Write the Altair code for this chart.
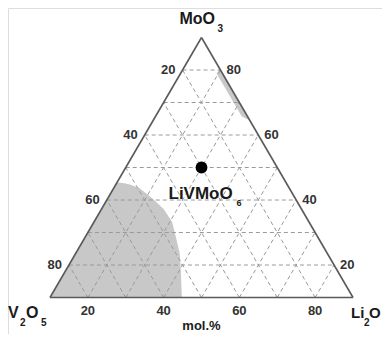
import altair as alt
import pandas as pd

# ---------------- data (mole fractions) ----------------
grid_steps = [1/8, 2/8, 3/8, 4/8, 5/8, 6/8, 7/8]

bottom_labels = ["20", "40", "60", "80"]          # Li2O axis (base)
bottom_pos = [0.125, 0.375, 0.625, 0.875]
left_labels = ["80", "60", "40", "20"]            # V2O5 axis (left edge)
left_pos = [0.125, 0.375, 0.625, 0.875]
right_labels = ["20", "40", "60", "80"]           # MoO3 axis (right edge)
right_pos = [0.125, 0.375, 0.625, 0.875]

compound_name = "LiVMoO"
compound_li = [0.25]
compound_mo = [0.50]

# glass-forming region near V2O5 corner: boundary Li2O for given MoO3
region_mo = [0.0, 0.10, 0.17, 0.23, 0.29, 0.34, 0.38, 0.42, 0.435, 0.44, 0.442]
region_li = [0.435, 0.382, 0.343, 0.301, 0.258, 0.205, 0.149, 0.086, 0.046, 0.021, 0.0]

# narrow region along the MoO3-Li2O side: V2O5 width for given MoO3
strip_mo = [0.686, 0.697, 0.862, 0.875]
strip_v = [0.006, 0.019, 0.019, 0.005]

# ---------------- helpers ----------------
W, H = 374, 326
XS = alt.Scale(domain=[-0.1386, 1.0957], nice=False, zero=False)
YS = alt.Scale(domain=[-0.1403, 1.1135], nice=False, zero=False)
FONT = "Liberation Sans"


def px(li, mo):
    return li + mo / 2.0


def enc_xy(xf="x", yf="y"):
    return dict(x=alt.X(f"{xf}:Q", scale=XS, axis=None),
                y=alt.Y(f"{yf}:Q", scale=YS, axis=None))


# grid segments
seg = []
for f in grid_steps:
    seg.append(dict(x=px(0, f), y=f, x2=px(1 - f, f), y2=f))          # MoO3 const
    seg.append(dict(x=px(f, 0), y=0, x2=px(f, 1 - f), y2=1 - f))      # Li2O const
    seg.append(dict(x=px(1 - f, 0), y=0, x2=px(0, 1 - f), y2=1 - f))  # V2O5 const
grid_df = pd.DataFrame(seg)

edges_df = pd.DataFrame([
    dict(x=px(0, 0), y=0, x2=px(1, 0), y2=0),
    dict(x=px(0, 0), y=0, x2=px(0, 1), y2=1),
    dict(x=px(1, 0), y=0, x2=px(0, 1), y2=1),
])

region_df = pd.DataFrame({
    "y": region_mo,
    "x": [px(0, m) for m in region_mo],
    "x2": [px(l, m) for l, m in zip(region_li, region_mo)],
})
strip_df = pd.DataFrame({
    "y": strip_mo,
    "x": [px(1 - v - m, m) for v, m in zip(strip_v, strip_mo)],
    "x2": [px(1 - m, m) for m in strip_mo],
})

region = alt.Chart(region_df).mark_area(orient="horizontal", color="#c8c8c8").encode(
    y=alt.Y("y:Q", scale=YS, axis=None),
    x=alt.X("x:Q", scale=XS, axis=None), x2="x2:Q")
strip = alt.Chart(strip_df).mark_area(orient="horizontal", color="#c8c8c8").encode(
    y=alt.Y("y:Q", scale=YS, axis=None),
    x=alt.X("x:Q", scale=XS, axis=None), x2="x2:Q")

grid = alt.Chart(grid_df).mark_rule(color="#9a9a9a", strokeDash=[4, 3], strokeWidth=1).encode(
    **enc_xy(), x2="x2:Q", y2="y2:Q")
edges = alt.Chart(edges_df).mark_rule(color="#5a5a5a", strokeWidth=1.6).encode(
    **enc_xy(), x2="x2:Q", y2="y2:Q")

dot_df = pd.DataFrame({"x": [px(l, m) for l, m in zip(compound_li, compound_mo)],
                       "y": compound_mo})
dot = alt.Chart(dot_df).mark_circle(size=140, color="black", opacity=1).encode(**enc_xy())


def txt(df, **kw):
    base = dict(font=FONT, fontWeight="bold", color="#1a1a1a")
    base.update(kw)
    return alt.Chart(df).mark_text(**base).encode(**enc_xy(), text="t:N")


tb = pd.DataFrame({"t": bottom_labels, "x": [px(p, 0) for p in bottom_pos], "y": [0] * 4})
tl = pd.DataFrame({"t": left_labels, "x": [px(0, p) for p in left_pos], "y": left_pos})
tr = pd.DataFrame({"t": right_labels, "x": [px(1 - p, p) for p in right_pos], "y": right_pos})

ticks_b = txt(tb, fontSize=13, align="center", baseline="middle", dy=13, color="#333333")
ticks_l = txt(tl, fontSize=13, align="right", baseline="middle", dx=-7, color="#333333")
ticks_r = txt(tr, fontSize=13, align="left", baseline="middle", dx=6, color="#333333")


def one(t, li, mo):
    return pd.DataFrame({"t": [t], "x": [px(li, mo)], "y": [mo]})


labels = [
    # MoO3 at apex
    txt(one("MoO", 0, 1), fontSize=16, align="left", baseline="alphabetic", dx=-22, dy=-14),
    txt(one("3", 0, 1), fontSize=10, align="left", baseline="alphabetic", dx=16, dy=-6),
    # V2O5 at left corner
    txt(one("V", 0, 0), fontSize=16, align="left", baseline="alphabetic", dx=-42, dy=20),
    txt(one("2", 0, 0), fontSize=10, align="left", baseline="alphabetic", dx=-30, dy=28),
    txt(one("O", 0, 0), fontSize=16, align="left", baseline="alphabetic", dx=-24, dy=20),
    txt(one("5", 0, 0), fontSize=10, align="left", baseline="alphabetic", dx=-9, dy=28),
    # Li2O at right corner
    txt(one("Li", 1, 0), fontSize=15, align="left", baseline="alphabetic", dx=-2, dy=20),
    txt(one("2", 1, 0), fontSize=10, align="left", baseline="alphabetic", dx=11, dy=28),
    txt(one("O", 1, 0), fontSize=15, align="left", baseline="alphabetic", dx=16, dy=20),
    # mol.%
    txt(one("mol.%", 0.5, 0), fontSize=13, align="center", baseline="alphabetic", dy=32),
    # compound
    txt(one(compound_name, compound_li[0], compound_mo[0]), fontSize=17, align="left",
        baseline="alphabetic", dx=-33, dy=31),
    txt(one("6", compound_li[0], compound_mo[0]), fontSize=9, align="left",
        baseline="alphabetic", dx=35, dy=38),
]

chart = alt.layer(region, strip, grid, edges, dot, ticks_b, ticks_l, ticks_r, *labels).properties(
    width=W, height=H, autosize=alt.AutoSizeParams(type="none"), padding=0
).configure_view(stroke=None).configure(background="white")

chart.save("out.html", embed_options={"renderer": "svg", "actions": False})
